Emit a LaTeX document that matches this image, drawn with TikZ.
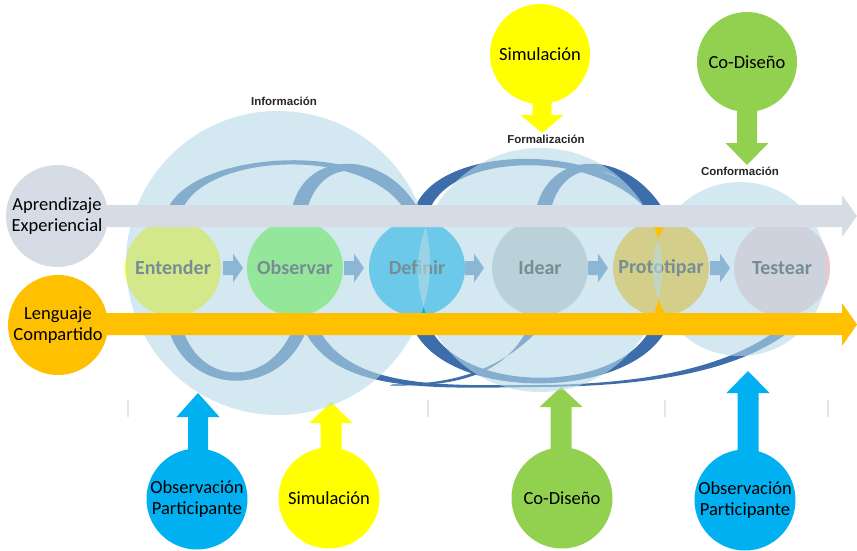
\documentclass[tikz,border=0pt]{standalone}
\usepackage{fontspec}
\setmainfont{Carlito}
\newfontfamily\labfont{Liberation Sans}
\usetikzlibrary{calc}
\definecolor{ribc}{HTML}{3D6DAA}
\definecolor{bigc}{HTML}{B6DAE6}
\definecolor{greybar}{HTML}{D6DCE5}
\definecolor{orangec}{HTML}{FFC000}
\definecolor{yellowc}{HTML}{FFFF00}
\definecolor{greenc}{HTML}{92D050}
\definecolor{bluec}{HTML}{00B0F0}
\definecolor{obsc}{RGB}{98,252,42}
\definecolor{ideac}{HTML}{BEC6C6}
\definecolor{testc}{HTML}{F0C6CD}
\definecolor{arrc}{HTML}{4F81BD}
\definecolor{txtc}{HTML}{1A1A1A}
\definecolor{sepc}{HTML}{E6E6E6}
% vertical block arrow: colour, xc, y shaft start, y head base, y tip, shaft half width, head half width
\newcommand{\myvarrow}[7]{\fill[#1] ({#2-#6},#3) -- ({#2-#6},#4) -- ({#2-#7},#4) -- (#2,#5) -- ({#2+#7},#4) -- ({#2+#6},#4) -- ({#2+#6},#3) -- cycle;}
% horizontal block arrow: colour, x0, x head base, x tip, yc, shaft half, head half
\newcommand{\myharrow}[7]{\fill[#1] (#2,{#5-#6}) -- (#3,{#5-#6}) -- (#3,{#5-#7}) -- (#4,#5) -- (#3,{#5+#7}) -- (#3,{#5+#6}) -- (#2,{#5+#6}) -- cycle;}
\tikzset{
  proc/.style={circle, inner sep=0pt, minimum size=96pt, font=\bfseries\fontsize{20}{22}\selectfont, text=txtc},
  bigcirc/.style={circle, inner sep=0pt, fill=bigc, fill opacity=0.6},
  meth/.style={circle, inner sep=0pt, minimum size=101pt, align=center, font=\fontsize{18.5}{20.5}\selectfont, text=black},
  phase/.style={font=\labfont\bfseries\fontsize{11.5}{13}\selectfont, text=black!85},
  rib/.style={fill=ribc},
}
\begin{document}
\begin{tikzpicture}[x=1pt,y=-1pt]
\useasboundingbox (0,0) rectangle (857,550);
\fill[white] (0,0) rectangle (857,550);

% faint separators
\foreach \sx in {128,428,665,828}
  \draw[sepc, line width=1.5pt] (\sx,400) -- (\sx,417);

% ribbons (upper)
\fill[rib] (166,214) .. controls (183,150) and (380,135) .. (421,214) -- (407,214) .. controls (370,143) and (197,153) .. (181,214) -- cycle;
\fill[rib] (291,214) .. controls (300,148) and (387,146) .. (421,214) -- (407,214) .. controls (378,156) and (318,156) .. (306,214) -- cycle;
\fill[rib] (413,214) .. controls (430,143) and (605,138) .. (666,214) -- (650,214) .. controls (600,148) and (447,150) .. (428,214) -- cycle;
\fill[rib] (535,214) .. controls (546,148) and (628,146) .. (666,214) -- (651,214) .. controls (620,156) and (560,156) .. (550,214) -- cycle;
% ribbons (lower)
\fill[rib] (167,323) .. controls (183,398) and (285,402) .. (309,323) -- (295,323) .. controls (273,389) and (197,389) .. (181,323) -- cycle;
\fill[rib] (301,323) .. controls (330,395) and (430,388) .. (540,387) .. controls (650,386) and (745,372) .. (800,323) -- (786,323) .. controls (735,366) and (650,384) .. (540,385) .. controls (440,385.5) and (345,390) .. (316,323) -- cycle;
\fill[rib] (411,323) .. controls (440,405) and (640,402) .. (669,323) -- (653,323) .. controls (625,396) and (456,396) .. (428,323) -- cycle;
\fill[rib] (530,323) .. controls (505,383) and (440,386) .. (390,385.5) -- (392,384.5) .. controls (440,384) and (497,378) .. (545,323) -- cycle;

% process circles
\node[proc, fill=yellowc] (ent) at (173,268) {Entender};
\node[proc, fill=obsc]    (obs) at (295,268) {Observar};
\node[proc, fill=bluec]   (def) at (417,268) {Definir};
\node[proc, fill=ideac]   (ide) at (540,268) {Idear};
\node[proc, fill=orangec] (pro) at (661,268) {Prototipar};
\node[proc, fill=testc]   (tes) at (782,268) {Testear};

% small arrows between process steps
\myharrow{arrc}{223}{233}{243}{268}{7}{14.5}
\myharrow{arrc}{344}{354}{364}{268}{7}{14.5}
\myharrow{arrc}{465}{474}{484}{268}{7}{14.5}
\myharrow{arrc}{588}{598}{608}{268}{7}{14.5}
\myharrow{arrc}{710}{720}{730}{268}{7}{14.5}

% method arrows
\myvarrow{yellowc}{542}{95}{115}{133}{9.5}{21.5}
\myvarrow{greenc}{747}{105}{143}{165}{10}{21.5}
\myvarrow{bluec}{198}{455}{417}{393}{10}{21.5}
\myvarrow{yellowc}{331}{455}{423}{402}{10.5}{21.5}
\myvarrow{greenc}{561}{455}{407}{387}{10.5}{21.5}
\myvarrow{bluec}{748}{455}{393}{371}{10.5}{21.5}

% method circles
\node[meth, fill=yellowc, minimum size=100pt] (simT) at (540,54) {Simulación};
\node[meth, fill=greenc, minimum size=100pt] (codT) at (747,62) {Co-Diseño};
\node[meth, fill=bluec] (obsL) at (197,499) {Observación\\Participante};
\node[meth, fill=yellowc] (simB) at (329,498) {Simulación};
\node[meth, fill=greenc] (codB) at (562,498) {Co-Diseño};
\node[meth, fill=bluec] (obsR) at (745,500) {Observación\\Participante};

% big phase circles
\node[bigcirc, minimum size=304pt] (info) at (278,263) {};
\node[bigcirc, minimum size=244pt] (form) at (540,270) {};
\node[bigcirc, minimum size=174pt] (conf) at (740,269) {};

% bars
\fill[greybar] (100,205) -- (842,205) -- (842,195) -- (857,216) -- (842,237) -- (842,227) -- (100,227) -- cycle;
\fill[orangec] (100,313) -- (842,313) -- (842,303) -- (857,324.5) -- (842,346) -- (842,335) -- (100,335) -- cycle;

% left circles
\node[meth, fill=greybar, minimum size=102pt] (apr) at (57,216) {Aprendizaje\\Experiencial};
\node[meth, fill=orangec, minimum size=100pt] (len) at (58,325) {Lenguaje\\Compartido};

% phase labels
\node[phase] (linfo) at (284,101) {Información};
\node[phase] (lform) at (546,139) {Formalización};
\node[phase] (lconf) at (740,171) {Conformación};
\end{tikzpicture}
\end{document}
